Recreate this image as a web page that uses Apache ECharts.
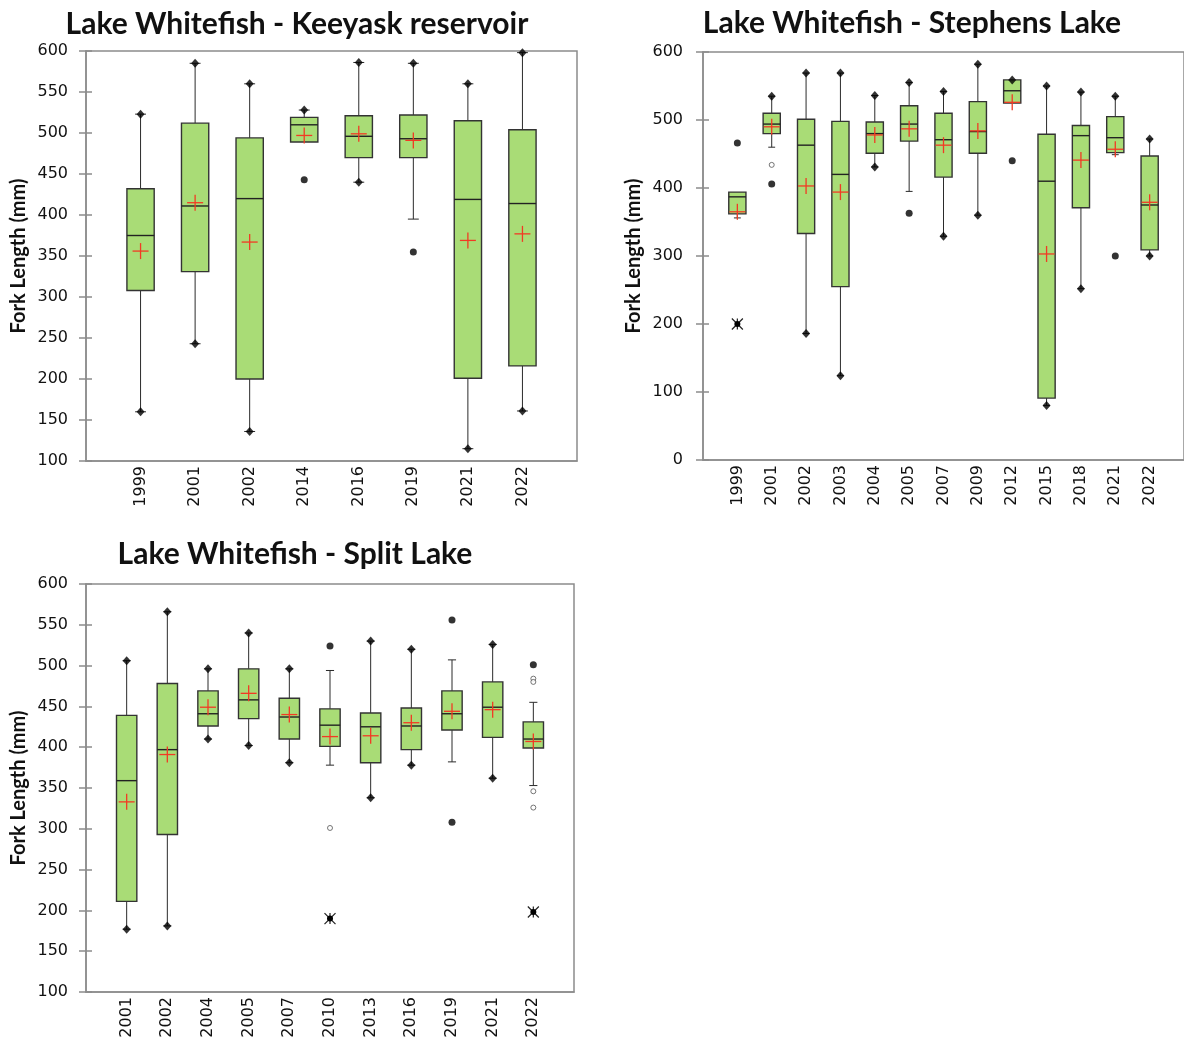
<!DOCTYPE html>
<html>
<head>
<meta charset="utf-8">
<script src="https://cdn.jsdelivr.net/npm/echarts@6.0.0/dist/echarts.min.js"></script>
<style>
  html, body { margin: 0; padding: 0; background: #fff; }
  #main { width: 1184px; height: 1044px; }
</style>
</head>
<body>
<div id="main"></div>
<script>
// box = [low whisker, Q1, median, Q3, high whisker]
const keeyaskYears = ['1999', '2001', '2002', '2014', '2016', '2019', '2021', '2022'];
const keeyaskBox = [
  [160, 308, 375, 432, 523],
  [243, 331, 411, 512, 585],
  [136, 200, 420, 494, 560],
  [489, 489, 510, 519, 528],
  [440, 470, 496, 521, 586],
  [395, 470, 493, 522, 585],
  [115, 201, 419, 515, 560],
  [161, 216, 414, 504, 598]
];
const keeyaskMean = [356, 415, 367, 497, 499, 491, 369, 377];
const keeyaskMinMax = [['1999', 160], ['1999', 523], ['2001', 243], ['2001', 585], ['2002', 136], ['2002', 560],
  ['2014', 528], ['2016', 440], ['2016', 586], ['2019', 585], ['2021', 115], ['2021', 560], ['2022', 161], ['2022', 598]];
const keeyaskDots = [['2014', 443], ['2019', 355]];
const keeyaskRings = [];
const keeyaskStars = [];

const stephensYears = ['1999', '2001', '2002', '2003', '2004', '2005', '2007', '2009', '2012', '2015', '2018', '2021', '2022'];
const stephensBox = [
  [356, 362, 387, 394, 394],
  [460, 480, 494, 510, 535],
  [186, 333, 463, 501, 569],
  [124, 255, 420, 498, 569],
  [431, 451, 480, 497, 536],
  [395, 469, 494, 521, 555],
  [329, 416, 471, 510, 542],
  [360, 451, 483, 527, 582],
  [525, 525, 543, 559, 559],
  [80, 91, 410, 479, 550],
  [252, 371, 477, 492, 541],
  [449, 452, 474, 505, 535],
  [300, 309, 375, 447, 472]
];
const stephensMean = [365, 490, 403, 394, 478, 487, 463, 484, 526, 303, 441, 457, 379];
const stephensMinMax = [['2001', 535], ['2002', 186], ['2002', 569], ['2003', 124], ['2003', 569], ['2004', 431], ['2004', 536],
  ['2005', 555], ['2007', 329], ['2007', 542], ['2009', 360], ['2009', 582], ['2012', 559], ['2015', 80], ['2015', 550],
  ['2018', 252], ['2018', 541], ['2021', 535], ['2022', 300], ['2022', 472]];
const stephensDots = [['1999', 466], ['2001', 406], ['2005', 363], ['2012', 440], ['2021', 300]];
const stephensRings = [['2001', 434]];
const stephensStars = [['1999', 200]];

const splitYears = ['2001', '2002', '2004', '2005', '2007', '2010', '2013', '2016', '2019', '2021', '2022'];
const splitBox = [
  [177, 211, 359, 439, 506],
  [181, 293, 397, 478, 566],
  [410, 426, 441, 469, 496],
  [402, 435, 458, 496, 540],
  [381, 410, 437, 460, 496],
  [378, 401, 427, 447, 494],
  [338, 381, 425, 442, 530],
  [378, 397, 426, 448, 520],
  [382, 421, 441, 469, 507],
  [362, 412, 449, 480, 526],
  [353, 399, 410, 431, 455]
];
const splitMean = [333, 391, 449, 466, 440, 413, 414, 430, 444, 446, 407];
const splitMinMax = [['2001', 177], ['2001', 506], ['2002', 181], ['2002', 566], ['2004', 410], ['2004', 496],
  ['2005', 402], ['2005', 540], ['2007', 381], ['2007', 496], ['2013', 338], ['2013', 530], ['2016', 378], ['2016', 520],
  ['2021', 362], ['2021', 526]];
const splitDots = [['2010', 524], ['2019', 556], ['2019', 308], ['2022', 501]];
const splitRings = [['2010', 301], ['2022', 484], ['2022', 480], ['2022', 346], ['2022', 326]];
const splitStars = [['2010', 190], ['2022', 198]];

const panels = [
  { title: 'Lake Whitefish - Keeyask reservoir', years: keeyaskYears, box: keeyaskBox, mean: keeyaskMean,
    minmax: keeyaskMinMax, dots: keeyaskDots, rings: keeyaskRings, stars: keeyaskStars, yMin: 100, yMax: 600, step: 50 },
  { title: 'Lake Whitefish - Stephens Lake', years: stephensYears, box: stephensBox, mean: stephensMean,
    minmax: stephensMinMax, dots: stephensDots, rings: stephensRings, stars: stephensStars, yMin: 0, yMax: 600, step: 100 },
  { title: 'Lake Whitefish - Split Lake', years: splitYears, box: splitBox, mean: splitMean,
    minmax: splitMinMax, dots: splitDots, rings: splitRings, stars: splitStars, yMin: 100, yMax: 600, step: 50 }
];

// layout of the three plot areas
const layouts = [
  { grid: { left: 86, top: 51, width: 491, height: 410 }, titleX: 292, titleY: 4, nameGap: 57, labelMargin: 18 },
  { grid: { left: 703, top: 52, width: 488, height: 408 }, titleX: 907, titleY: 3, nameGap: 59, labelMargin: 20 },
  { grid: { left: 86, top: 584, width: 488, height: 408 }, titleX: 290, titleY: 534, nameGap: 57, labelMargin: 18 }
];

const frameColor = '#8c8c8c';
const textColor = '#111';
const tickFont = 'DejaVu Sans';
const boldFont = 'Lato';

function boxItem(params, api) {
  const x = api.value(0);
  const lo = api.coord([x, api.value(1)]);
  const q1 = api.coord([x, api.value(2)]);
  const md = api.coord([x, api.value(3)]);
  const q3 = api.coord([x, api.value(4)]);
  const hi = api.coord([x, api.value(5)]);
  const bw = api.size([1, 0])[0] * 0.5;
  const cw = bw * 0.4;
  const cx = q1[0];
  const ls = { stroke: '#2b2b2b', lineWidth: 1 };
  const children = [];
  if (api.value(5) > api.value(4)) {
    children.push({ type: 'line', shape: { x1: cx, y1: hi[1], x2: cx, y2: q3[1] }, style: ls });
    children.push({ type: 'line', shape: { x1: cx - cw / 2, y1: hi[1], x2: cx + cw / 2, y2: hi[1] }, style: ls });
  }
  if (api.value(1) < api.value(2)) {
    children.push({ type: 'line', shape: { x1: cx, y1: q1[1], x2: cx, y2: lo[1] }, style: ls });
    children.push({ type: 'line', shape: { x1: cx - cw / 2, y1: lo[1], x2: cx + cw / 2, y2: lo[1] }, style: ls });
  }
  children.push({
    type: 'rect',
    shape: { x: cx - bw / 2, y: q3[1], width: bw, height: q1[1] - q3[1] },
    style: { fill: '#a9dc76', stroke: '#333', lineWidth: 1.4 }
  });
  children.push({ type: 'line', shape: { x1: cx - bw / 2, y1: md[1], x2: cx + bw / 2, y2: md[1] }, style: { stroke: '#222', lineWidth: 1.4 } });
  return { type: 'group', children: children };
}

function meanItem(params, api) {
  const p = api.coord([api.value(0), api.value(1)]);
  const h = 8;
  const st = { stroke: '#f23a24', lineWidth: 1.3 };
  return {
    type: 'group',
    children: [
      { type: 'line', shape: { x1: p[0] - h, y1: p[1], x2: p[0] + h, y2: p[1] }, style: st },
      { type: 'line', shape: { x1: p[0], y1: p[1] - h, x2: p[0], y2: p[1] + h }, style: st }
    ]
  };
}

function starItem(params, api) {
  const p = api.coord([api.value(0), api.value(1)]);
  const r = 5.5;
  const st = { stroke: '#222', lineWidth: 1.2 };
  return {
    type: 'group',
    children: [
      { type: 'line', shape: { x1: p[0] - r, y1: p[1] - r, x2: p[0] + r, y2: p[1] + r }, style: st },
      { type: 'line', shape: { x1: p[0] - r, y1: p[1] + r, x2: p[0] + r, y2: p[1] - r }, style: st },
      { type: 'line', shape: { x1: p[0], y1: p[1] - r, x2: p[0], y2: p[1] + r }, style: st },
      { type: 'circle', shape: { cx: p[0], cy: p[1], r: 3 }, style: { fill: '#000' } }
    ]
  };
}

const option = {
  animation: false,
  backgroundColor: '#fff',
  title: [],
  grid: [],
  xAxis: [],
  yAxis: [],
  series: []
};

panels.forEach(function (pn, k) {
  const lay = layouts[k];
  const idx = function (pair) { return [pn.years.indexOf(pair[0]) + 1, pair[1]]; };

  option.title.push({
    text: pn.title,
    left: lay.titleX,
    top: lay.titleY,
    textAlign: 'center',
    textStyle: { fontFamily: boldFont, fontWeight: 'bold', fontSize: 30, color: textColor }
  });
  option.grid.push(Object.assign({ show: true, borderColor: frameColor, borderWidth: 1.5 }, lay.grid));
  option.xAxis.push({
    gridIndex: k,
    type: 'category',
    boundaryGap: false,
    data: [''].concat(pn.years, ['']),
    axisLine: { lineStyle: { color: frameColor, width: 1.5 } },
    axisTick: { show: false },
    axisLabel: { interval: 0, rotate: 90, margin: 5, fontFamily: tickFont, fontSize: 16, color: textColor },
    splitLine: { show: false }
  });
  option.yAxis.push({
    gridIndex: k,
    type: 'value',
    position: 'left',
    min: pn.yMin,
    max: pn.yMax,
    interval: pn.step,
    name: 'Fork Length (mm)',
    nameLocation: 'middle',
    nameGap: lay.nameGap,
    nameTextStyle: { fontFamily: boldFont, fontWeight: 'bold', fontSize: 20, color: textColor },
    axisLine: { show: true, lineStyle: { color: frameColor, width: 1.5 } },
    axisTick: { show: true, length: 7, lineStyle: { color: frameColor, width: 1.5 } },
    axisLabel: { margin: lay.labelMargin, fontFamily: tickFont, fontSize: 16, color: textColor },
    splitLine: { show: false }
  });
  // second axis only for the inner half of the tick marks
  option.yAxis.push({
    gridIndex: k,
    type: 'value',
    position: 'left',
    min: pn.yMin,
    max: pn.yMax,
    interval: pn.step,
    axisLine: { show: false },
    axisTick: { show: true, inside: true, length: 6, lineStyle: { color: frameColor, width: 1.5 } },
    axisLabel: { show: false },
    splitLine: { show: false }
  });

  const axes = { xAxisIndex: k, yAxisIndex: 2 * k };
  option.series.push(Object.assign({
    type: 'custom',
    renderItem: boxItem,
    encode: { x: 0, y: [1, 2, 3, 4, 5] },
    data: pn.box.map(function (b, i) { return [i + 1].concat(b); }),
    z: 2
  }, axes));
  option.series.push(Object.assign({
    type: 'scatter',
    symbol: 'diamond',
    symbolSize: [8, 9],
    itemStyle: { color: '#000' },
    data: pn.minmax.map(idx),
    z: 3
  }, axes));
  option.series.push(Object.assign({
    type: 'scatter',
    symbol: 'circle',
    symbolSize: 7,
    itemStyle: { color: '#000' },
    data: pn.dots.map(idx),
    z: 3
  }, axes));
  option.series.push(Object.assign({
    type: 'scatter',
    symbol: 'circle',
    symbolSize: 5,
    itemStyle: { color: '#fff', borderColor: '#555', borderWidth: 1 },
    data: pn.rings.map(idx),
    z: 3
  }, axes));
  option.series.push(Object.assign({
    type: 'custom',
    renderItem: starItem,
    encode: { x: 0, y: 1 },
    data: pn.stars.map(idx),
    z: 3
  }, axes));
  option.series.push(Object.assign({
    type: 'custom',
    renderItem: meanItem,
    encode: { x: 0, y: 1 },
    data: pn.mean.map(function (m, i) { return [i + 1, m]; }),
    z: 4
  }, axes));
});

const chart = echarts.init(document.getElementById('main'));
chart.setOption(option);
</script>
</body>
</html>
